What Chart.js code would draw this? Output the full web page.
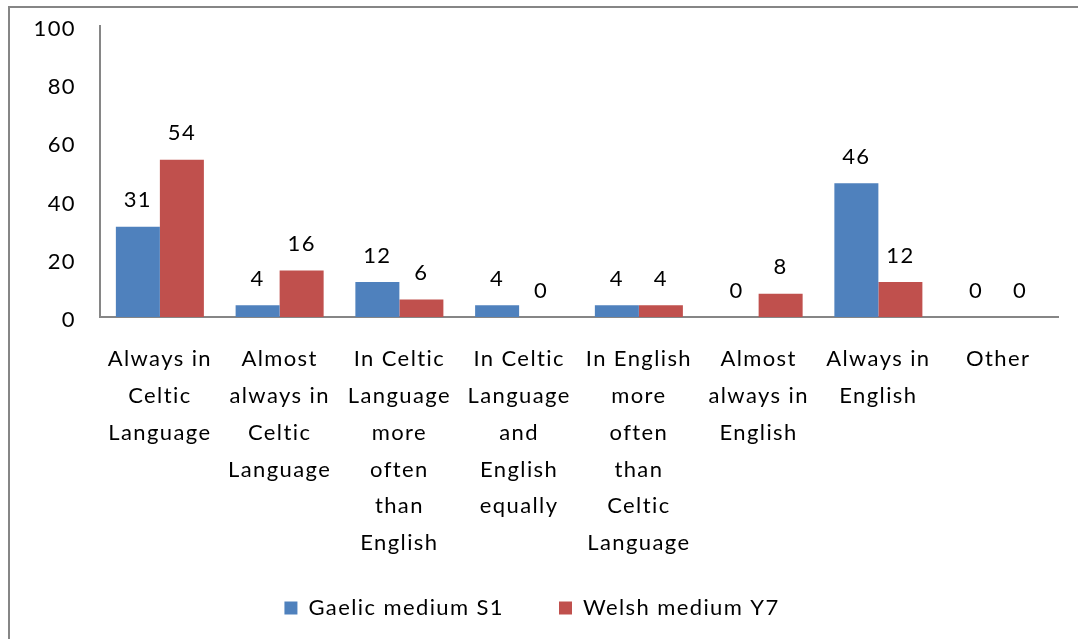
<!DOCTYPE html>
<html>
<head>
<meta charset="utf-8">
<script src="https://cdn.jsdelivr.net/npm/chart.js@4/dist/chart.umd.min.js"></script>
<style>
  html, body { margin: 0; padding: 0; background: #ffffff; }
  #wrap { width: 1078px; height: 639px; position: relative; }
</style>
</head>
<body>
<div id="wrap"><canvas id="c" width="1078" height="639"></canvas></div>
<script>
// Categories (multi-line labels), series values and axis ticks
const categories = [
  ["Always in", "Celtic", "Language"],
  ["Almost", "always in", "Celtic", "Language"],
  ["In Celtic", "Language", "more", "often", "than", "English"],
  ["In Celtic", "Language", "and", "English", "equally"],
  ["In English", "more", "often", "than", "Celtic", "Language"],
  ["Almost", "always in", "English"],
  ["Always in", "English"],
  ["Other"]
];
const gaelicS1 = [31, 4, 12, 4, 4, 0, 46, 0];
const welshY7 = [54, 16, 6, 0, 4, 8, 12, 0];
const yTicks = [0, 20, 40, 60, 80, 100];

const FONT = "Lato";
const SPACING = "1.4px";
const AXIS_GREY = "#868686";
const LEGEND_HEIGHT = 62;   // reserved height of the legend band
const LEGEND_TEXT_Y = 608;  // vertical centre of the legend entries
const LEGEND_SHIFT_X = 3;   // nudge of the legend row to the right

// Frame, text spacing and legend placement
const framePlugin = {
  id: "frame",
  beforeUpdate(chart) { chart.ctx.letterSpacing = SPACING; },
  beforeLayout(chart) {
    // keep the legend band compact while its item spacing stays wide
    const lg = chart.legend;
    if (lg && !lg._fixedFit) {
      const fit = lg.fit.bind(lg);
      lg.fit = function () { fit(); this.height = LEGEND_HEIGHT; };
      lg._fixedFit = true;
    }
  },
  afterLayout(chart) {
    const lg = chart.legend;
    if (lg) {
      const pad = lg.options.labels.padding;
      const size = lg.options.labels.font.size;
      lg.top = LEGEND_TEXT_Y - pad - size / 2;
      lg.left += LEGEND_SHIFT_X;
      lg.right += LEGEND_SHIFT_X;
    }
  },
  beforeDraw(chart) {
    const ctx = chart.ctx;
    ctx.letterSpacing = SPACING;
    ctx.save();
    ctx.fillStyle = "#ffffff";
    ctx.fillRect(0, 0, chart.width, chart.height);
    ctx.strokeStyle = AXIS_GREY;
    ctx.lineWidth = 2;
    ctx.strokeRect(9, 7, chart.width + 50, chart.height + 50);
    ctx.restore();
  }
};

// Value labels above each bar
const valueLabels = {
  id: "valueLabels",
  afterDatasetsDraw(chart) {
    const ctx = chart.ctx;
    ctx.save();
    ctx.font = "22px " + FONT;
    ctx.fillStyle = "#000000";
    ctx.textAlign = "center";
    ctx.textBaseline = "middle";
    chart.data.datasets.forEach((ds, i) => {
      chart.getDatasetMeta(i).data.forEach((bar, j) => {
        ctx.fillText(String(ds.data[j]), bar.x, bar.y - 26.5);
      });
    });
    ctx.restore();
  }
};

new Chart(document.getElementById("c"), {
  type: "bar",
  data: {
    labels: categories,
    datasets: [
      { label: "Gaelic medium S1", data: gaelicS1, backgroundColor: "#4F81BD", borderWidth: 0 },
      { label: "Welsh medium Y7", data: welshY7, backgroundColor: "#C0504D", borderWidth: 0 }
    ]
  },
  options: {
    responsive: false,
    animation: false,
    devicePixelRatio: 1,
    datasets: { bar: { categoryPercentage: 0.735, barPercentage: 1.0 } },
    layout: { padding: { top: 26, right: 20, bottom: 10, left: 0 } },
    scales: {
      x: {
        grid: { display: false, drawTicks: false },
        border: { display: true, color: AXIS_GREY, width: 2 },
        ticks: {
          color: "#000000",
          font: { family: FONT, size: 22, lineHeight: 1.67 },
          padding: 24,
          maxRotation: 0,
          minRotation: 0,
          autoSkip: false
        },
        afterFit(scale) {
          scale.height = 250;
          scale.paddingLeft = 0;
          scale.paddingRight = 0;
        }
      },
      y: {
        min: 0,
        max: 100,
        afterBuildTicks(scale) { scale.ticks = yTicks.map(v => ({ value: v })); },
        grid: { display: false, drawTicks: false },
        border: { display: true, color: AXIS_GREY, width: 2 },
        ticks: {
          color: "#000000",
          font: { family: FONT, size: 22 },
          padding: 24,
          labelOffset: 3
        },
        afterFit(scale) {
          scale.width = 100;
          scale.paddingTop = 0;
          scale.paddingBottom = 0;
        }
      }
    },
    plugins: {
      legend: {
        position: "bottom",
        labels: {
          color: "#000000",
          font: { family: FONT, size: 22 },
          boxWidth: 13,
          boxHeight: 13,
          padding: 55
        }
      },
      tooltip: { enabled: false }
    }
  },
  plugins: [framePlugin, valueLabels]
});
</script>
</body>
</html>
